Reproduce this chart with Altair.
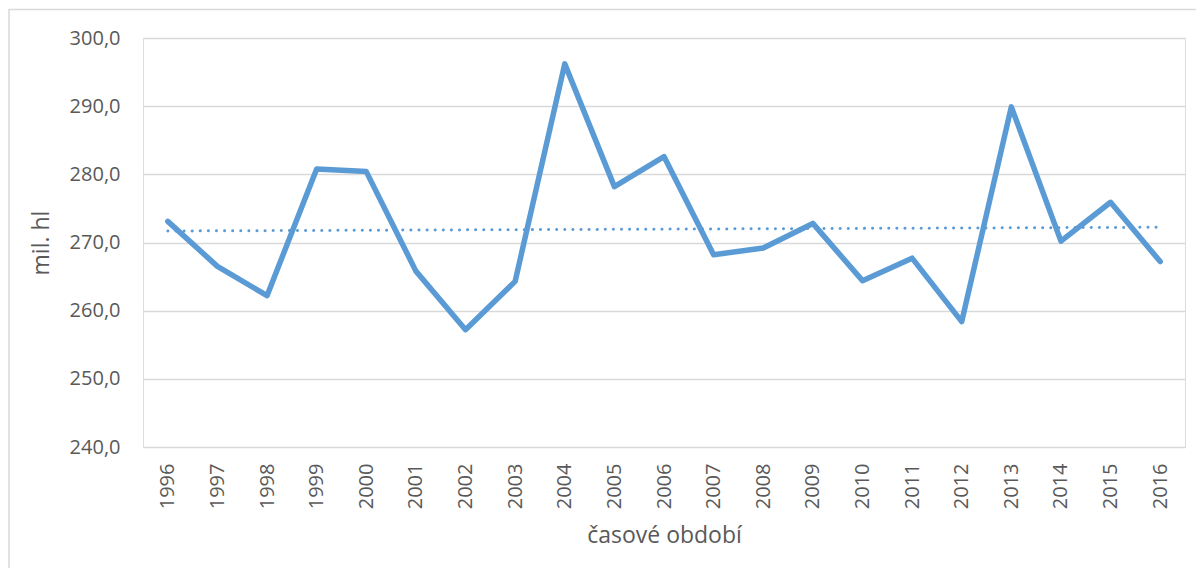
import altair as alt
import pandas as pd

years = list(range(1996, 2017))
production = [273.1, 266.5, 262.2, 280.8, 280.4, 265.8, 257.2, 264.3, 296.2, 278.2,
              282.6, 268.2, 269.2, 272.8, 264.4, 267.7, 258.4, 289.9, 270.2, 275.9, 267.2]
y_ticks = [240, 250, 260, 270, 280, 290, 300]

df = pd.DataFrame({"year": years, "value": production})

FONT = "Open Sans"
TXT = "#595959"
BLUE = "#5B9BD5"
GRID = "#d9d9d9"

x_enc = alt.X(
    "year:Q",
    scale=alt.Scale(domain=[1995.5, 2016.5], nice=False, zero=False),
    axis=alt.Axis(
        values=years, format="d", labelAngle=270, grid=False, ticks=False, tickSize=0,
        domain=False, labelPadding=16, labelFontSize=20, labelColor=TXT, labelFont=FONT,
        title="časové období", titleFontSize=23, titleColor=TXT, titleFont=FONT,
        titleFontWeight="normal", titlePadding=16, labelOverlap=False,
    ),
)
y_enc = alt.Y(
    "value:Q",
    scale=alt.Scale(domain=[240, 300], nice=False, zero=False),
    axis=alt.Axis(
        values=y_ticks, labelExpr="replace(format(datum.value, '.1f'), '.', ',')",
        grid=True, gridColor=GRID, gridWidth=1.4, ticks=False, tickSize=0, domain=False,
        labelPadding=23, labelFontSize=20, labelColor=TXT, labelFont=FONT,
        title="mil. hl", titleFontSize=23, titleColor=TXT, titleFont=FONT,
        titleFontWeight="normal", titlePadding=16,
    ),
)

frame = alt.Chart(pd.DataFrame({"a": [0]})).mark_rect(
    fillOpacity=0, stroke=GRID, strokeWidth=1.5
).encode(
    x=alt.value(-134), x2=alt.value(1300), y=alt.value(-28.5), y2=alt.value(700)
)

line = alt.Chart(df).mark_line(
    color=BLUE, strokeWidth=5.5, strokeCap="round", strokeJoin="round"
).encode(x=x_enc, y=y_enc)

trend = alt.Chart(df).transform_regression("year", "value").mark_line(
    color=BLUE, strokeWidth=3, strokeCap="round", strokeDash=[0.1, 8]
).encode(x=x_enc, y=y_enc)

chart = alt.layer(frame, line, trend).properties(
    width=1042, height=409,
    autosize=alt.AutoSizeParams(type="none"),
    padding={"left": 135, "top": 30, "right": 11, "bottom": 121},
).configure_view(stroke=None).configure(background="white")

chart.save("out.html", embed_options={"renderer": "svg", "actions": False})
